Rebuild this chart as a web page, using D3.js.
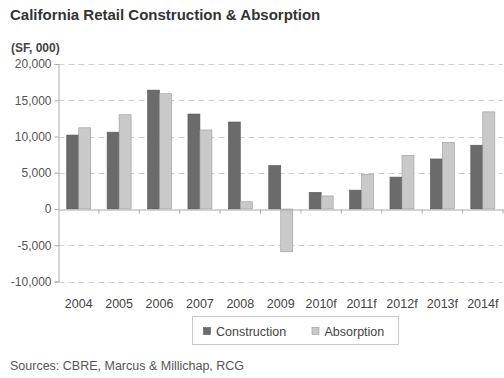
<!DOCTYPE html>
<html>
<head>
<meta charset="utf-8">
<script src="https://cdn.jsdelivr.net/npm/d3@7"></script>
<style>
  html, body { margin: 0; padding: 0; background: #fff; }
  svg { display: block; font-family: "Liberation Sans", Arial, sans-serif; }
</style>
</head>
<body>
<svg id="chart" width="504" height="378"></svg>
<script>
// Retail space (thousand SF) by year
const years = ["2004", "2005", "2006", "2007", "2008", "2009", "2010f", "2011f", "2012f", "2013f", "2014f"];
const construction = [10200, 10600, 16400, 13100, 12000, 6000, 2300, 2600, 4400, 6900, 8800];
const absorption = [11200, 13000, 15900, 10900, 1000, -5900, 1800, 4800, 7400, 9200, 13400];
const yTicks = [20000, 15000, 10000, 5000, 0, -5000, -10000];
const seriesNames = ["Construction", "Absorption"];
const seriesColors = ["#6b6b6b", "#c9c9c9"];
const seriesStroke = ["#5a5a5a", "#9a9a9a"];

const svg = d3.select("#chart");
const plotLeft = 58.5, plotRight = 503, plotTop = 64, plotBottom = 281.5;

const x = d3.scaleBand().domain(years).range([plotLeft, plotRight]);
const y = d3.scaleLinear().domain([-10000, 20000]).range([plotBottom, plotTop]);
// thousands separator, plain hyphen for negatives
const fmt = v => d3.format(",")(v).replace("\u2212", "-");

// Title and unit
svg.append("text").attr("x", 10).attr("y", 20)
  .attr("font-size", 15).attr("font-weight", "bold").attr("fill", "#333")
  .text("California Retail Construction & Absorption");
svg.append("text").attr("x", 11).attr("y", 51.5)
  .attr("font-size", 12).attr("font-weight", "bold").attr("fill", "#444")
  .text("(SF, 000)");

// Dashed gridlines
svg.append("g").selectAll("line").data(yTicks.filter(d => d !== 0)).join("line")
  .attr("x1", plotLeft).attr("x2", plotRight)
  .attr("y1", d => Math.round(y(d)) + 0.5).attr("y2", d => Math.round(y(d)) + 0.5)
  .attr("stroke", "#cfcfcf").attr("stroke-width", 1).attr("stroke-dasharray", "6,4");

// Y axis
const yAxis = d3.axisLeft(y).tickValues(yTicks).tickFormat(fmt).tickSize(4).tickPadding(3);
const gy = svg.append("g").attr("transform", `translate(${plotLeft},0)`).call(yAxis);
gy.select(".domain").attr("stroke", "#aaa");
gy.selectAll(".tick line").attr("stroke", "#aaa");
gy.selectAll(".tick text").attr("font-size", 12).attr("fill", "#555")
  .attr("font-family", "Liberation Sans, Arial, sans-serif");

// Bars
const inner = d3.scaleBand().domain(seriesNames).range([0, 24]);
const off = (x.bandwidth() - 24) / 2;
const rows = years.map((yr, i) => ({ yr, vals: [construction[i], absorption[i]] }));
const groups = svg.append("g").selectAll("g").data(rows).join("g")
  .attr("transform", d => `translate(${x(d.yr) + off},0)`);
groups.selectAll("rect").data(d => d.vals.map((v, k) => ({ v, k }))).join("rect")
  .attr("x", d => inner(seriesNames[d.k]))
  .attr("width", inner.bandwidth())
  .attr("y", d => y(Math.max(0, d.v)))
  .attr("height", d => Math.abs(y(d.v) - y(0)))
  .attr("fill", d => seriesColors[d.k])
  .attr("stroke", d => seriesStroke[d.k]).attr("stroke-width", 0.6);

// Zero line with category ticks
const xAxis = d3.axisBottom(x).tickSize(0).tickFormat("");
const gx = svg.append("g").attr("transform", `translate(0,${Math.round(y(0)) + 0.5})`).call(xAxis);
gx.select(".domain").attr("stroke", "#aaa");
gx.append("g").selectAll("line").data(years.slice(1).concat(["end"])).join("line")
  .attr("x1", d => d === "end" ? plotRight : x(d)).attr("x2", d => d === "end" ? plotRight : x(d))
  .attr("y1", 0).attr("y2", 4).attr("stroke", "#aaa");

// Category labels
svg.append("g").selectAll("text").data(years).join("text")
  .attr("x", d => x(d) + x.bandwidth() / 2).attr("y", 307.5)
  .attr("text-anchor", "middle").attr("font-size", 12.5).attr("fill", "#444")
  .text(d => d);

// Legend
const lg = svg.append("g");
lg.append("rect").attr("x", 192.5).attr("y", 316.5).attr("width", 206).attr("height", 28)
  .attr("fill", "#fff").attr("stroke", "#c8c8c8");
const lx = [203, 311.5];
seriesNames.forEach((n, k) => {
  lg.append("rect").attr("x", lx[k] + 0.5).attr("y", 327.5).attr("width", 7).attr("height", 7)
    .attr("fill", seriesColors[k]).attr("stroke", seriesStroke[k]).attr("stroke-width", 0.6);
  lg.append("text").attr("x", lx[k] + 13).attr("y", 335.5)
    .attr("font-size", 12.5).attr("fill", "#444").text(n);
});

// Sources
svg.append("text").attr("x", 10).attr("y", 369.5)
  .attr("font-size", 12.5).attr("fill", "#555")
  .text("Sources: CBRE, Marcus & Millichap, RCG");
</script>
</body>
</html>
